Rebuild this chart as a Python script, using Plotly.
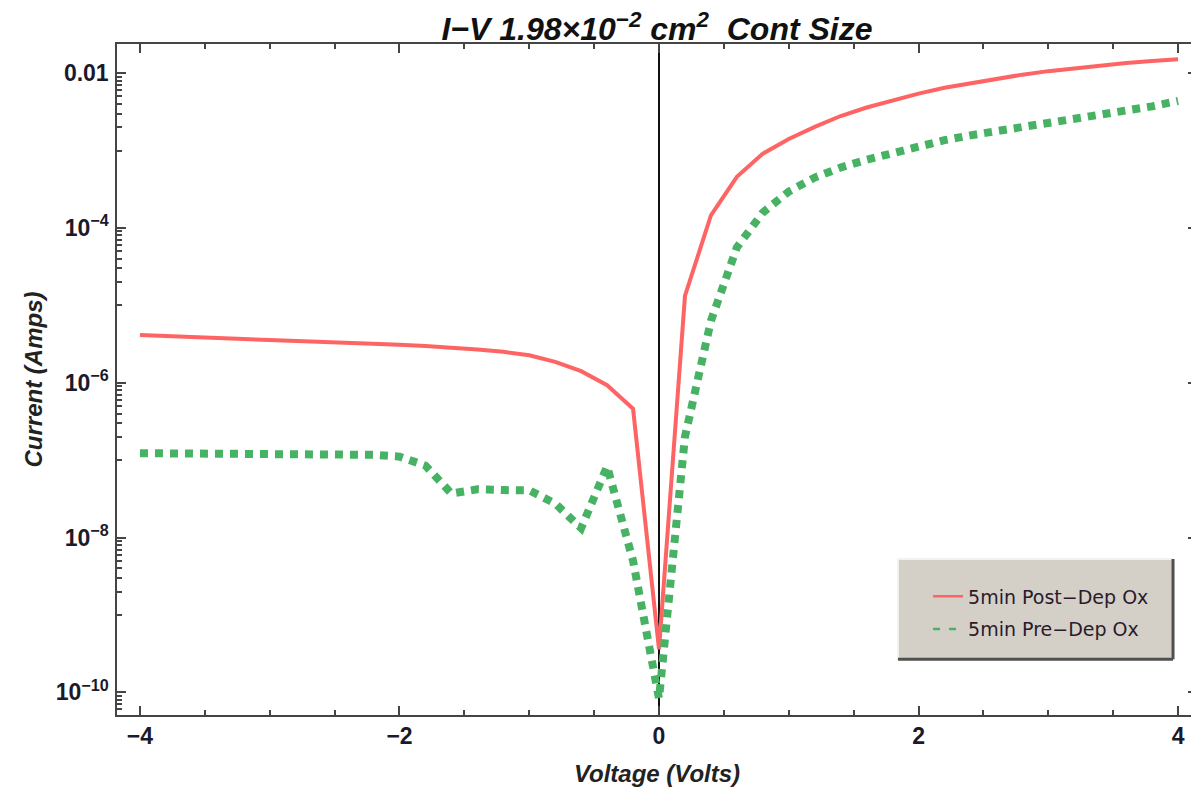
import plotly.graph_objects as go

voltage = [-4.0, -3.8, -3.6, -3.4, -3.2, -3.0, -2.8, -2.6, -2.4, -2.2, -2.0,
           -1.8, -1.6, -1.4, -1.2, -1.0, -0.8, -0.6, -0.4, -0.2, 0.0,
           0.2, 0.4, 0.6, 0.8, 1.0, 1.2, 1.4, 1.6, 1.8, 2.0,
           2.2, 2.4, 2.6, 2.8, 3.0, 3.2, 3.4, 3.6, 3.8, 4.0]

post_dep = [4.13e-6, 3.98e-6, 3.89e-6, 3.80e-6, 3.67e-6, 3.55e-6, 3.47e-6, 3.39e-6, 3.27e-6, 3.20e-6, 3.09e-6,
            2.99e-6, 2.85e-6, 2.69e-6, 2.51e-6, 2.26e-6, 1.86e-6, 1.41e-6, 9.3e-7, 4.6e-7, 3.6e-10,
            1.32e-5, 1.45e-4, 4.57e-4, 9.1e-4, 1.41e-3, 2.02e-3, 2.79e-3, 3.59e-3, 4.47e-3, 5.43e-3,
            6.46e-3, 7.41e-3, 8.51e-3, 9.55e-3, 1.06e-2, 1.16e-2, 1.26e-2, 1.35e-2, 1.43e-2, 1.51e-2]

pre_dep = [1.23e-7, 1.23e-7, 1.22e-7, 1.22e-7, 1.20e-7, 1.20e-7, 1.19e-7, 1.19e-7, 1.17e-7, 1.17e-7, 1.11e-7,
           8.5e-8, 3.7e-8, 4.2e-8, 4.1e-8, 4.07e-8, 2.75e-8, 1.32e-8, 8.3e-8, 5.0e-9, 8.3e-11,
           2.0e-7, 6.3e-6, 5.6e-5, 1.58e-4, 2.95e-4, 4.47e-4, 6.03e-4, 7.59e-4, 9.33e-4, 1.15e-3,
           1.36e-3, 1.57e-3, 1.78e-3, 2.0e-3, 2.26e-3, 2.51e-3, 2.82e-3, 3.24e-3, 3.72e-3, 4.37e-3]

series_names = ["5min Post\u2212Dep Ox", "5min Pre\u2212Dep Ox"]

x_major = [-4, -2, 0, 2, 4]
x_major_text = ["\u22124", "\u22122", "0", "2", "4"]
x_minor = [-3.5, -3.0, -2.5, -1.5, -1.0, -0.5, 0.5, 1.0, 1.5, 2.5, 3.0, 3.5]

y_major = [1e-2, 1e-4, 1e-6, 1e-8, 1e-10]
y_major_text = ["0.01", "10<sup>\u22124</sup>", "10<sup>\u22126</sup>", "10<sup>\u22128</sup>", "10<sup>\u221210</sup>"]
y_minor_mult = [1, 2, 3, 4, 5, 6, 7, 8, 9]
y_minor = [k * m / 10 for m in y_major for k in y_minor_mult]

RED = "rgb(255,100,100)"
GREEN = "rgb(72,178,100)"
AXC = "#454545"
TXT = "#1a1a2a"

fig = go.Figure()
fig.add_trace(go.Scatter(x=voltage, y=post_dep, mode="lines", showlegend=False,
                         line=dict(color=RED, width=4)))
fig.add_trace(go.Scatter(x=voltage, y=pre_dep, mode="lines", showlegend=False,
                         line=dict(color=GREEN, width=8, dash="8px,7px")))
# legend entries (thin symbols as in the reference legend)
fig.add_trace(go.Scatter(x=[None], y=[None], mode="lines", name=series_names[0], legendgroup="a",
                         line=dict(color=RED, width=2.5)))
fig.add_trace(go.Scatter(x=[None], y=[None], mode="lines", name=series_names[1], legendgroup="b",
                         line=dict(color=GREEN, width=2.5, dash="7px,9px")))

# legend box (bevelled grey panel)
bx0, bx1, by0, by1 = 0.7231, 0.9778, 0.083, 0.2325
fig.add_shape(type="rect", xref="paper", yref="paper", x0=bx0, x1=bx1, y0=by0, y1=by1,
              fillcolor="#D4D0C8", line=dict(width=0), layer="above")
fig.add_shape(type="line", xref="paper", yref="paper", x0=bx0, x1=bx1, y0=by1, y1=by1,
              line=dict(color="#F4F2EE", width=2), layer="above")
fig.add_shape(type="line", xref="paper", yref="paper", x0=bx0, x1=bx0, y0=by0, y1=by1,
              line=dict(color="#F4F2EE", width=2), layer="above")
fig.add_shape(type="line", xref="paper", yref="paper", x0=bx0, x1=bx1, y0=by0, y1=by0,
              line=dict(color="#505050", width=3), layer="above")
fig.add_shape(type="line", xref="paper", yref="paper", x0=bx1, x1=bx1, y0=by0, y1=by1,
              line=dict(color="#505050", width=3), layer="above")

# the page adds an 8px body margin, so the figure is offset by 8px
fig.update_layout(
    width=1199, height=791,
    margin=dict(l=109, r=10, t=36, b=84),
    paper_bgcolor="white", plot_bgcolor="white",
    title=dict(text="I\u2212V 1.98\u00d710<sup>\u22122</sup> cm<sup>2</sup>  Cont Size",
               x=0.5, xref="paper", xanchor="center", y=1 - 21 / 791, yref="container", yanchor="middle",
               font=dict(family="Liberation Sans", size=32, color="#111", style="italic", weight="bold")),
    legend=dict(x=0.751, y=0.205, xanchor="left", yanchor="top", bgcolor="rgba(0,0,0,0)",
                borderwidth=0, tracegroupgap=5, traceorder="grouped",
                font=dict(family="DejaVu Sans", size=19, color="#2a1a2a")),
    showlegend=True,
)

fig.update_xaxes(
    range=[-4.177, 4.146], showgrid=False, automargin=False,
    zeroline=True, zerolinecolor="#111", zerolinewidth=1.5,
    showline=True, linecolor=AXC, linewidth=1.5, mirror="allticks",
    ticks="inside", ticklen=9, tickwidth=1.5, tickcolor=AXC,
    tickmode="array", tickvals=x_major, ticktext=x_major_text,
    minor=dict(tickmode="array", tickvals=x_minor, ticks="inside", ticklen=5, tickwidth=1.5, tickcolor=AXC),
    tickfont=dict(family="Liberation Sans", size=23, color=TXT, weight="bold"),
    layer="above traces",
    title=dict(text="Voltage (Volts)", standoff=17,
               font=dict(family="Liberation Sans", size=24, color="#222", style="italic", weight="bold")),
)

fig.update_yaxes(
    type="log", range=[-10.293, -1.624], showgrid=False, zeroline=False, automargin=False,
    showline=True, linecolor=AXC, linewidth=1.5, mirror="allticks",
    ticks="inside", ticklen=9, tickwidth=1.5, tickcolor=AXC,
    tickmode="array", tickvals=y_major, ticktext=y_major_text,
    minor=dict(tickmode="array", tickvals=y_minor, ticks="inside", ticklen=5, tickwidth=1.5, tickcolor=AXC),
    tickfont=dict(family="Liberation Sans", size=23, color=TXT, weight="bold"),
    ticklabelstandoff=2,
    layer="above traces",
    title=dict(text="Current (Amps)", standoff=6,
               font=dict(family="Liberation Sans", size=24, color="#222", style="italic", weight="bold")),
)

fig.write_html("out.html")
